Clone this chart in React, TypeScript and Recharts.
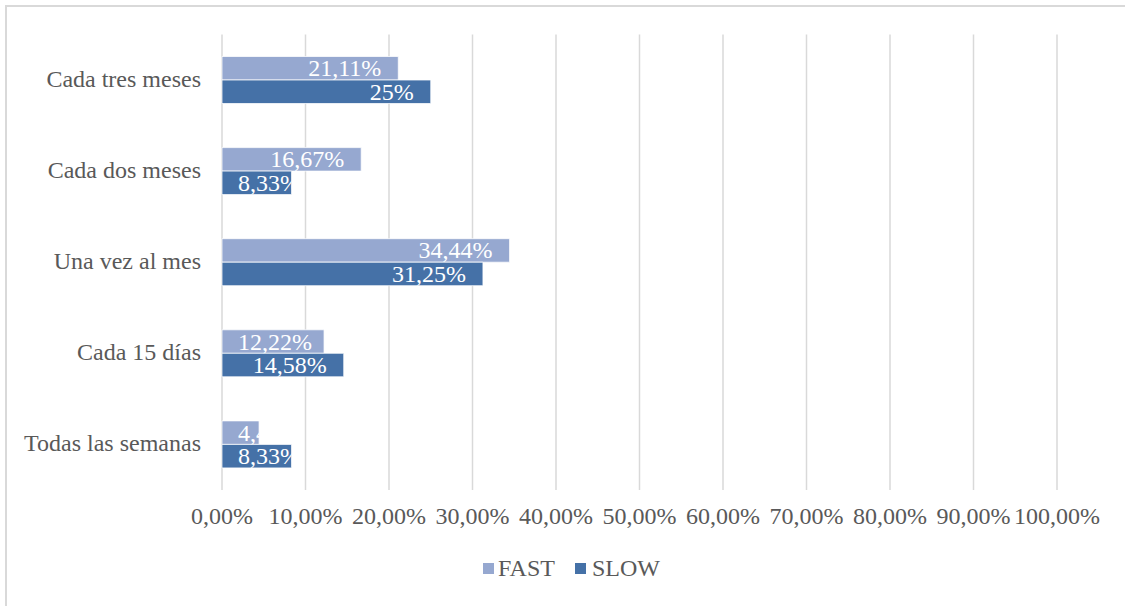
import { Bar, BarChart, CartesianGrid, XAxis, YAxis } from "recharts";

const categories = [
  "Cada tres meses",
  "Cada dos meses",
  "Una vez al mes",
  "Cada 15 días",
  "Todas las semanas",
];
const fastValues = [21.11, 16.67, 34.44, 12.22, 4.44];
const slowValues = [25, 8.33, 31.25, 14.58, 8.33];
const xTicks = [0, 10, 20, 30, 40, 50, 60, 70, 80, 90, 100];

const FAST_COLOR = "#96a8d0";
const SLOW_COLOR = "#4571a7";
const TEXT_COLOR = "#595959";
const FONT = "'Times New Roman', 'Liberation Serif', serif";
const FONT_SIZE = 24;

const data = categories.map((name, i) => ({
  name,
  fast: fastValues[i],
  slow: slowValues[i],
}));

let ctx: CanvasRenderingContext2D | null = null;
function textWidth(text: string) {
  if (!ctx) {
    ctx = document.createElement("canvas").getContext("2d");
  }
  if (!ctx) return text.length * FONT_SIZE * 0.5;
  ctx.font = `${FONT_SIZE}px "Liberation Serif"`;
  return ctx.measureText(text).width;
}

function formatLabel(v: number) {
  return `${String(v).replace(".", ",")}%`;
}

// Excel-like "inside end" labels, clipped by the bar
function makeLabel(series: string) {
  return (props: any) => {
    const { x, y, width, height, value, index } = props;
    const text = formatLabel(Number(value));
    const w = textWidth(text);
    const tx = Math.max(x + 16, x + width - 17 - w);
    const id = `clip-${series}-${index}`;
    return (
      <g>
        <defs>
          <clipPath id={id}>
            <rect x={x} y={y} width={width} height={height} />
          </clipPath>
        </defs>
        <text
          x={tx}
          y={y + height / 2}
          fill="#ffffff"
          fontSize={FONT_SIZE}
          fontFamily={FONT}
          dominantBaseline="central"
          clipPath={`url(#${id})`}
        >
          {text}
        </text>
      </g>
    );
  };
}

export default function App() {
  return (
    <div
      style={{
        position: "fixed",
        left: 0,
        top: 0,
        width: 1125,
        height: 606,
        background: "#ffffff",
        overflow: "hidden",
        fontFamily: FONT,
      }}
    >
      <div
        style={{
          position: "absolute",
          left: 5,
          top: 5,
          width: 1130,
          height: 610,
          border: "2px solid #d9d9d9",
        }}
      />
      <div style={{ position: "absolute", left: 0, top: 0 }}>
        <BarChart
          width={1125}
          height={606}
          data={data}
          layout="vertical"
          margin={{ top: 34.5, right: 68, bottom: 66, left: 0 }}
          barGap={0}
          barSize={23.5}
        >
          <CartesianGrid
            horizontal={false}
            stroke="#d9d9d9"
            strokeWidth={1.5}
          />
          <XAxis
            type="number"
            domain={[0, 100]}
            ticks={xTicks}
            interval={0}
            height={50}
            axisLine={false}
            tickLine={false}
            tickSize={0}
            tickMargin={17}
            tickFormatter={(v) => `${Number(v).toFixed(2).replace(".", ",")}%`}
            tick={{ fill: TEXT_COLOR, fontSize: FONT_SIZE, fontFamily: FONT }}
          />
          <YAxis
            type="category"
            dataKey="name"
            width={222}
            axisLine={false}
            tickLine={false}
            tickSize={0}
            tickMargin={21}
            interval={0}
            tick={{
              fill: TEXT_COLOR,
              fontSize: FONT_SIZE,
              fontFamily: FONT,
              dy: -2,
            }}
          />
          <Bar
            dataKey="fast"
            name="FAST"
            fill={FAST_COLOR}
            stroke="#ffffff"
            strokeWidth={0.75}
            isAnimationActive={false}
            label={makeLabel("fast")}
          />
          <Bar
            dataKey="slow"
            name="SLOW"
            fill={SLOW_COLOR}
            stroke="#ffffff"
            strokeWidth={0.75}
            isAnimationActive={false}
            label={makeLabel("slow")}
          />
        </BarChart>
      </div>
      <div
        style={{
          position: "absolute",
          left: 483,
          top: 554,
          display: "flex",
          alignItems: "center",
          color: TEXT_COLOR,
          fontSize: FONT_SIZE,
          lineHeight: "28px",
        }}
      >
        {[
          { name: "FAST", color: FAST_COLOR },
          { name: "SLOW", color: SLOW_COLOR },
        ].map((item, i) => (
          <div
            key={item.name}
            style={{
              display: "flex",
              alignItems: "center",
              marginRight: i === 0 ? 20 : 0,
            }}
          >
            <span
              style={{
                display: "inline-block",
                width: 11,
                height: 11,
                background: item.color,
                marginRight: i === 0 ? 4 : 6,
              }}
            />
            <span>{item.name}</span>
          </div>
        ))}
      </div>
    </div>
  );
}
